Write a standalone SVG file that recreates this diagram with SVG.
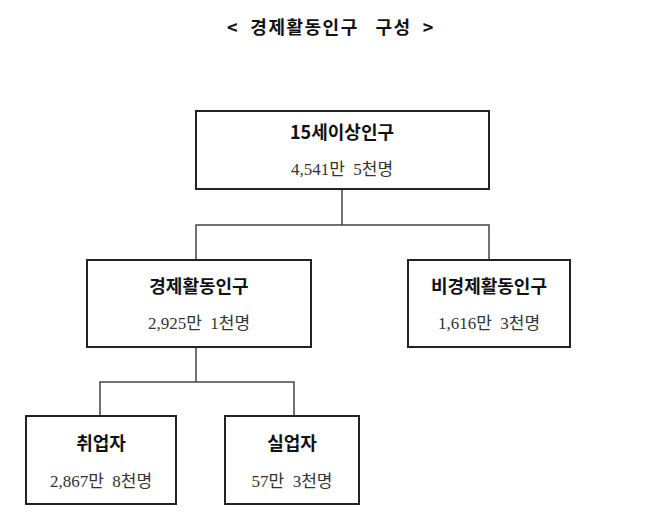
<svg xmlns="http://www.w3.org/2000/svg" width="661" height="530" viewBox="0 0 661 530">
<style>
.b{fill:#fff;stroke:#222;stroke-width:2}
.t{font-family:"Noto Sans CJK KR",sans-serif;font-weight:bold;font-size:18px;text-anchor:middle;fill:#111}
.n{font-family:"Liberation Serif","Noto Sans CJK KR",serif;font-size:17px;text-anchor:middle;fill:#333;white-space:pre}
.c{fill:none;stroke:#444;stroke-width:1.5}
</style>
<rect width="661" height="530" fill="#fff"/>
<text x="331" y="34" class="t" font-size="17" letter-spacing="1.5" xml:space="preserve">&lt;  경제활동인구   구성  &gt;</text>
<g id="connectors">
<path class="c" d="M342 189V225M196 260V225H489V260M196 347V382M100 416V382H294V416"/>
</g>
<g id="n1"><rect class="b" x="196" y="111" width="293" height="78"/><text class="t" x="342" y="139">15세이상인구</text><text class="n" x="342" y="175" xml:space="preserve">4,541만  5천명</text></g>
<g id="n2"><rect class="b" x="87" y="260" width="224" height="87"/><text class="t" x="199" y="293">경제활동인구</text><text class="n" x="199" y="329" xml:space="preserve">2,925만  1천명</text></g>
<g id="n3"><rect class="b" x="408" y="260" width="162" height="87"/><text class="t" x="489" y="293">비경제활동인구</text><text class="n" x="489" y="329" xml:space="preserve">1,616만  3천명</text></g>
<g id="n4"><rect class="b" x="26" y="416" width="150" height="88"/><text class="t" x="101" y="450">취업자</text><text class="n" x="101" y="487" xml:space="preserve">2,867만  8천명</text></g>
<g id="n5"><rect class="b" x="225" y="416" width="134" height="88"/><text class="t" x="292" y="450">실업자</text><text class="n" x="292" y="487" xml:space="preserve">57만  3천명</text></g>
</svg>
